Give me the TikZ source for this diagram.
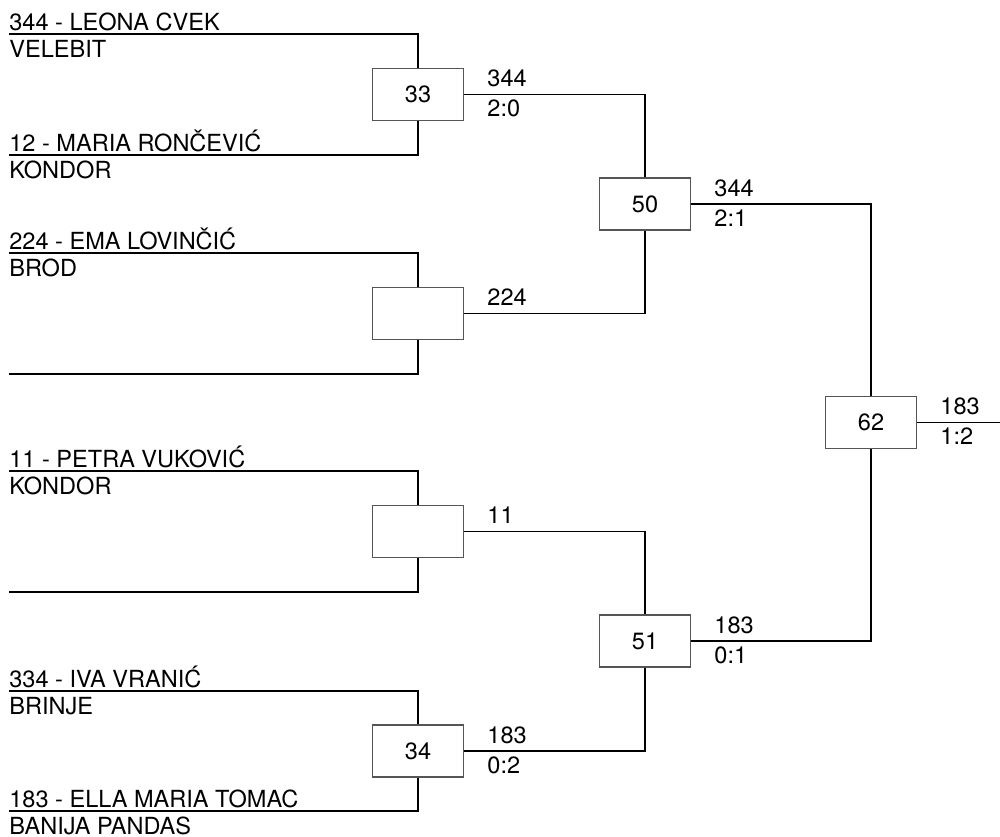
\documentclass[tikz,border=0pt]{standalone}
\usepackage{fontspec}
\setmainfont{TeX Gyre Heros}
\usepackage{tikz}
\usetikzlibrary{positioning,calc}
\definecolor{boxline}{HTML}{555555}

\begin{document}
\begin{tikzpicture}[
    x=0.02cm, y=-0.02cm,
    every node/.style={font=\fontsize{13.4}{16}\selectfont, inner sep=0pt},
    matchbox/.style={draw=boxline, fill=white, line width=0.7pt, minimum width=1.82cm, minimum height=1.04cm, inner sep=0pt},
    wire/.style={draw=black, line width=0.6pt},
    lbl/.style={anchor=base west}
]
    \useasboundingbox (0,0) rectangle (1000,836);

    % First round boxes
    \node[matchbox] (m33) at (418, 94.5) {33};
    \node[matchbox] (mA)  at (418, 313.5) {};
    \node[matchbox] (mB)  at (418, 531.5) {};
    \node[matchbox] (m34) at (418, 751) {34};

    % Second round and final
    \node[matchbox] (m50) at (645, 204) {50};
    \node[matchbox] (m51) at (645, 641) {51};
    \node[matchbox] (m62) at (871, 422.5) {62};

    % Player slots
    \coordinate (p1) at (9, 34);
    \coordinate (p2) at (9, 155);
    \coordinate (p3) at (9, 253);
    \coordinate (p4) at (9, 374);
    \coordinate (p5) at (9, 471);
    \coordinate (p6) at (9, 592);
    \coordinate (p7) at (9, 691);
    \coordinate (p8) at (9, 811);
    \coordinate (out) at (1000, 422.5);

    % Names and clubs
    \node[lbl] (n1) at ($(p1)+(0,-4)$) {344 - LEONA CVEK};
    \node[lbl] (c1) at ($(p1)+(0,23.5)$) {VELEBIT};
    \node[lbl] (n2) at ($(p2)+(0,-4)$) {12 - MARIA RONČEVIĆ};
    \node[lbl] (c2) at ($(p2)+(0,23.5)$) {KONDOR};
    \node[lbl] (n3) at ($(p3)+(0,-4)$) {224 - EMA LOVINČIĆ};
    \node[lbl] (c3) at ($(p3)+(0,23.5)$) {BROD};
    \node[lbl] (n5) at ($(p5)+(0,-4)$) {11 - PETRA VUKOVIĆ};
    \node[lbl] (c5) at ($(p5)+(0,23.5)$) {KONDOR};
    \node[lbl] (n7) at ($(p7)+(0,-4)$) {334 - IVA VRANIĆ};
    \node[lbl] (c7) at ($(p7)+(0,23.5)$) {BRINJE};
    \node[lbl] (n8) at ($(p8)+(0,-4)$) {183 - ELLA MARIA TOMAC};
    \node[lbl] (c8) at ($(p8)+(0,23)$) {BANIJA PANDAS};

    % Bracket wires
    \draw[wire] (p1) -| (m33.north);
    \draw[wire] (p2) -| (m33.south);
    \draw[wire] (p3) -| (mA.north);
    \draw[wire] (p4) -| (mA.south);
    \draw[wire] (p5) -| (mB.north);
    \draw[wire] (p6) -| (mB.south);
    \draw[wire] (p7) -| (m34.north);
    \draw[wire] (p8) -| (m34.south);

    \draw[wire] (m33.east) -| (m50.north);
    \draw[wire] (mA.east) -| (m50.south);
    \draw[wire] (mB.east) -| (m51.north);
    \draw[wire] (m34.east) -| (m51.south);
    \draw[wire] (m50.east) -| (m62.north);
    \draw[wire] (m51.east) -| (m62.south);
    \draw[wire] (m62.east) -- (out);

    % Winners and scores
    \node[lbl] (w33) at ($(m33.east)+(23,-8)$) {344};
    \node[lbl] (s33) at ($(m33.east)+(23,22)$) {2:0};
    \node[lbl] (wA)  at ($(mA.east)+(23,-8)$) {224};
    \node[lbl] (wB)  at ($(mB.east)+(23,-8)$) {11};
    \node[lbl] (w34) at ($(m34.east)+(23,-8)$) {183};
    \node[lbl] (s34) at ($(m34.east)+(23,22)$) {0:2};
    \node[lbl] (w50) at ($(m50.east)+(23,-8)$) {344};
    \node[lbl] (s50) at ($(m50.east)+(23,22)$) {2:1};
    \node[lbl] (w51) at ($(m51.east)+(23,-8)$) {183};
    \node[lbl] (s51) at ($(m51.east)+(23,22)$) {0:1};
    \node[lbl] (w62) at ($(m62.east)+(23,-8)$) {183};
    \node[lbl] (s62) at ($(m62.east)+(23,22)$) {1:2};
\end{tikzpicture}
\end{document}
